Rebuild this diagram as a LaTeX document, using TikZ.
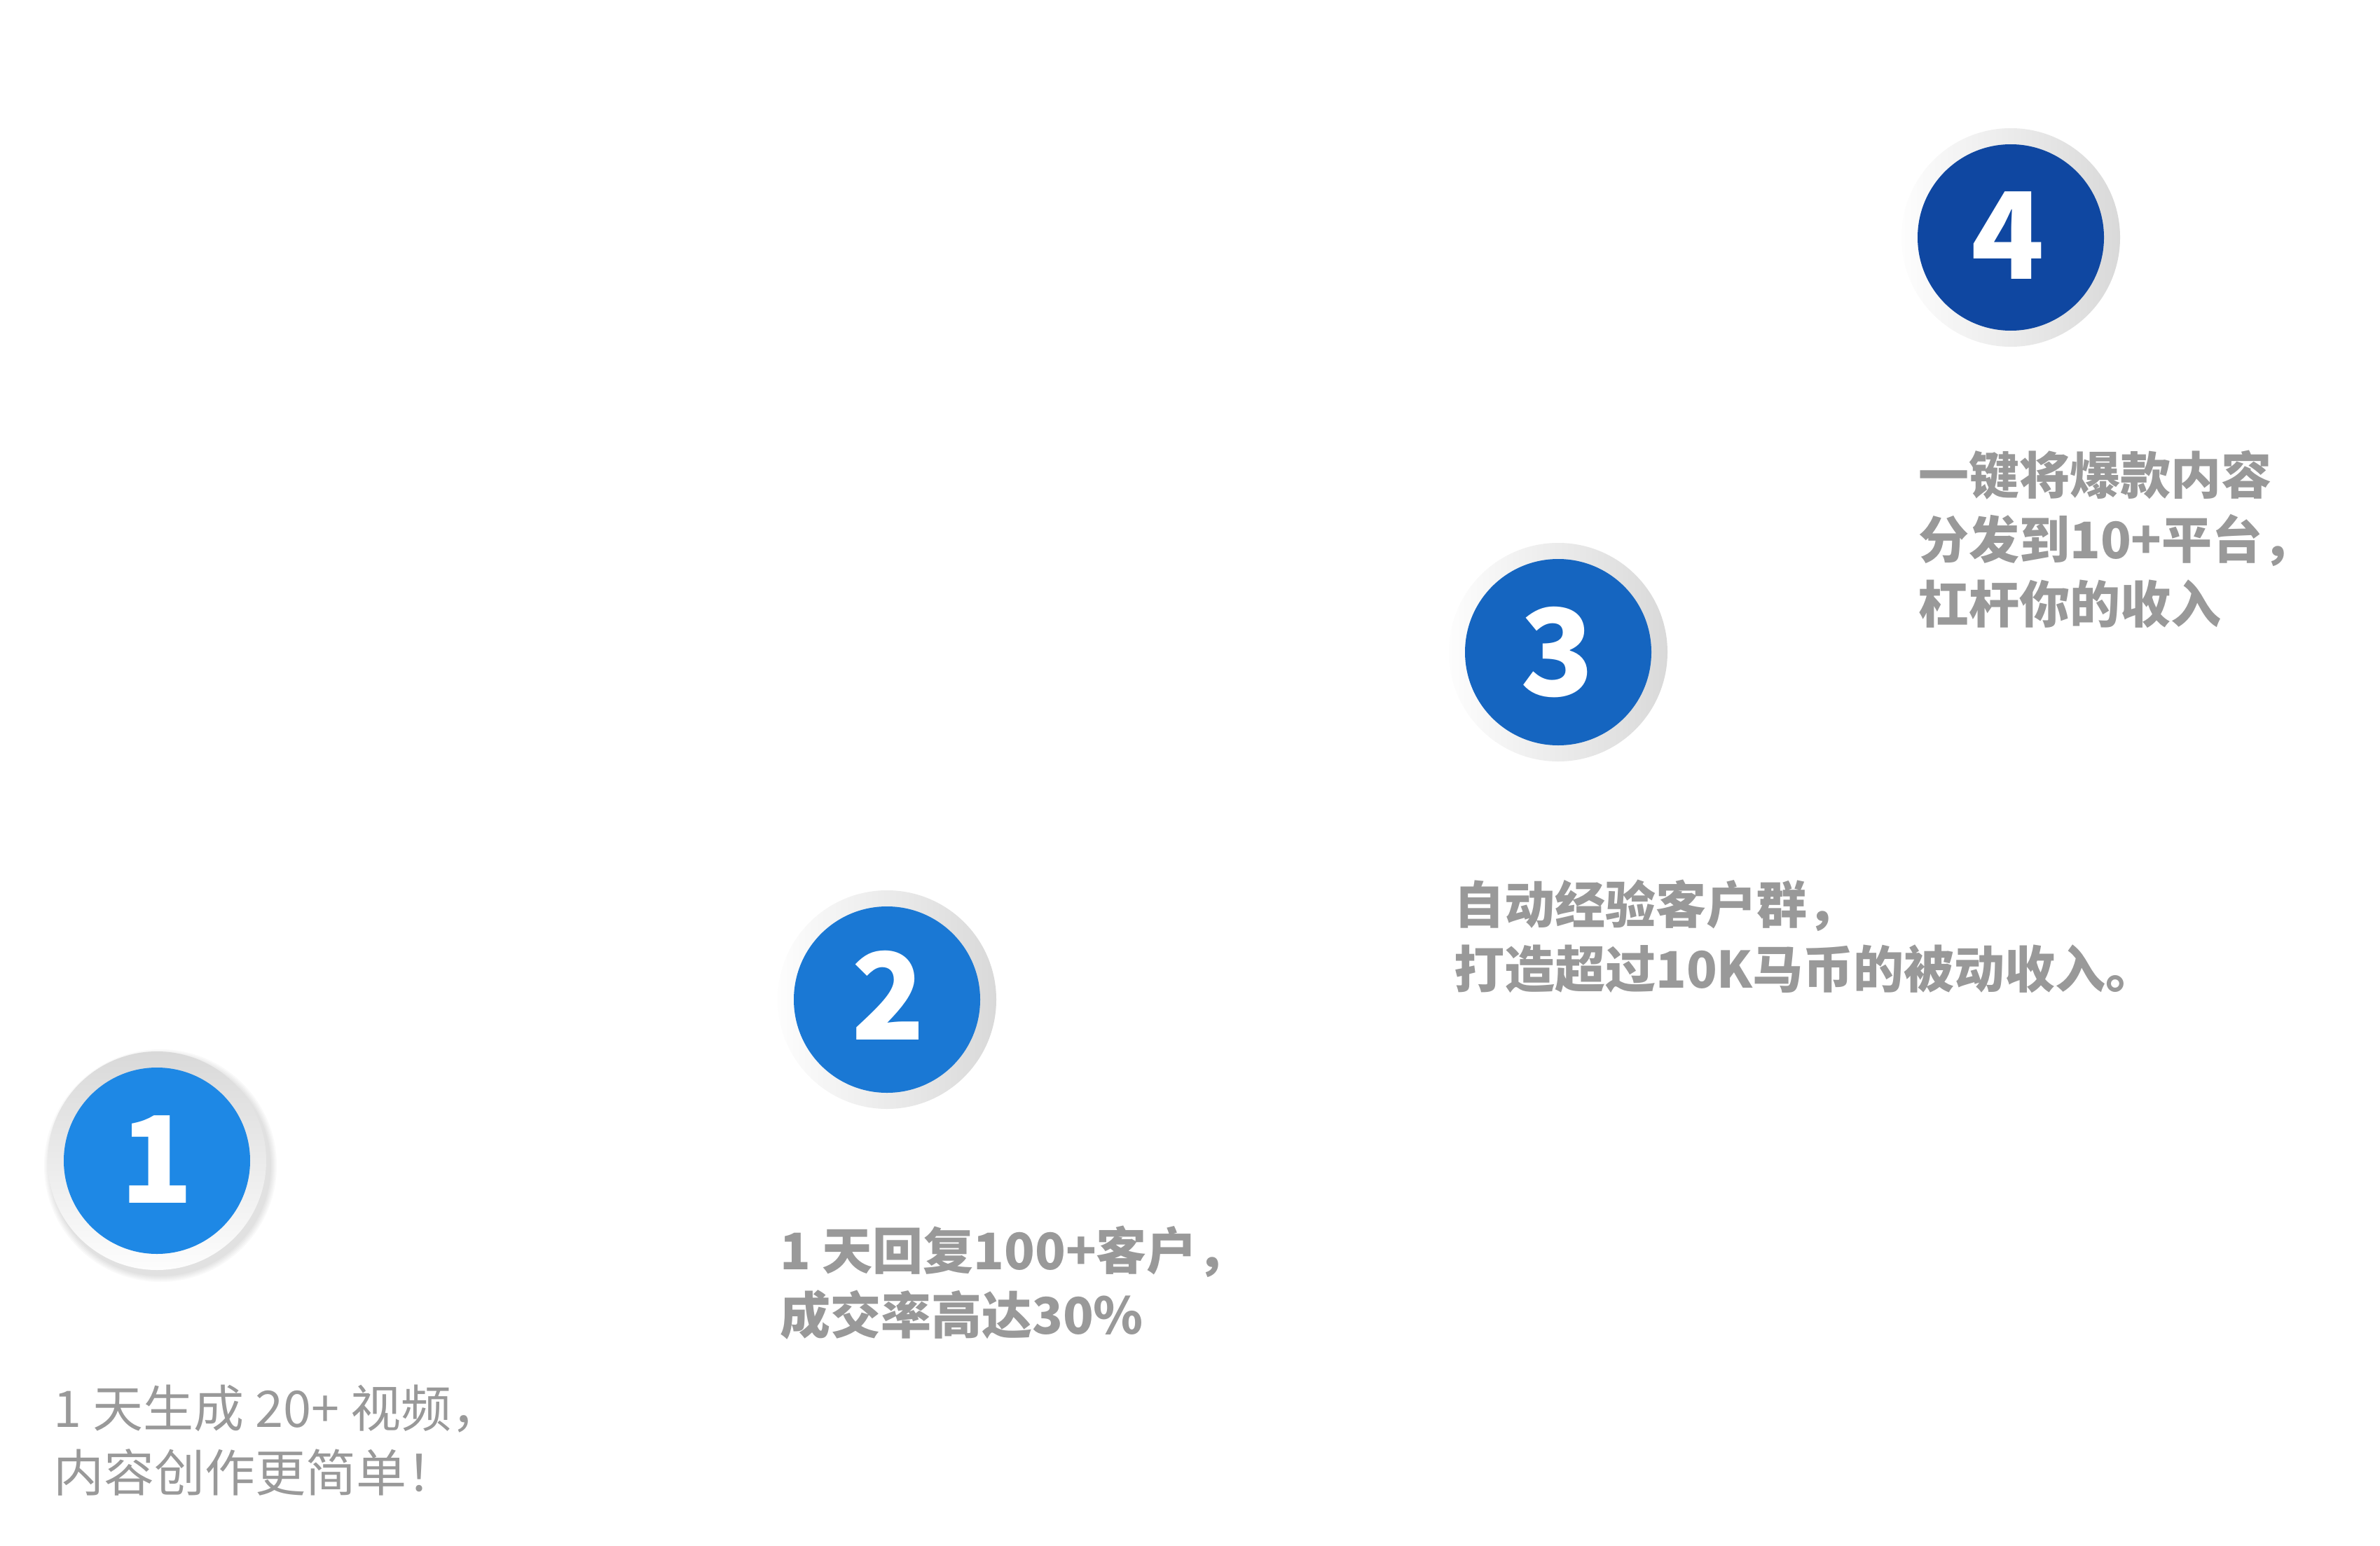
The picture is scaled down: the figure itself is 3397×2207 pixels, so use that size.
\documentclass[tikz,border=0pt]{standalone}
\usepackage{fontspec}
\setmainfont{Noto Sans CJK SC}
\definecolor{blueA}{HTML}{1E88E5}
\definecolor{blueB}{HTML}{1A78D4}
\definecolor{blueC}{HTML}{1565C0}
\definecolor{blueD}{HTML}{0F47A1}
\definecolor{txtgray}{HTML}{999999}
\definecolor{ringdark}{HTML}{D9D9D9}
\definecolor{ringlight}{HTML}{FDFDFD}
\tikzset{
  ringv/.style={circle, minimum size=312pt, inner sep=0pt, draw=none, top color=ringdark, bottom color=ringlight},
  ringh/.style={circle, minimum size=312pt, inner sep=0pt, draw=none, left color=ringlight, right color=ringdark},
  disc/.style={circle, minimum size=266pt, inner sep=0pt, draw=none},
  numtext/.style={anchor=base, inner sep=0pt, text=white, font=\fontsize{172}{172}\selectfont\bfseries},
  lbl/.style={anchor=base west, inner sep=0pt, text=txtgray, font=\fontsize{72}{90}\selectfont},
  lblb/.style={lbl, font=\fontsize{72}{90}\selectfont\bfseries},
}
\begin{document}
\begin{tikzpicture}[x=1pt,y=-1pt]
\useasboundingbox (0,0) rectangle (3397,2207);
\fill[white] (0,0) rectangle (3397,2207);

% soft shadow of circle 1
\foreach \r in {166,164,162,160,158}{
  \fill[black, opacity=0.025] (229,1664) circle[radius=\r];
}

% circle 1
\node[ringv] (r1) at (224,1657) {};
\node[disc, fill=blueA] (c1) at (224,1657) {};
\node[numtext] (n1) at (224,1717) {1};

% circle 2
\node[ringh] (r2) at (1266,1427) {};
\node[disc, fill=blueB] (c2) at (1266,1427) {};
\node[numtext] (n2) at (1268,1484) {2};

% circle 3
\node[ringh] (r3) at (2224,931) {};
\node[disc, fill=blueC] (c3) at (2224,931) {};
\node[numtext] (n3) at (2223,993) {3};

% circle 4
\node[ringh] (r4) at (2870,339) {};
\node[disc, fill=blueD] (c4) at (2870,339) {};
\node[numtext] (n4) at (2866,399) {4};

% text 1
\node[lbl] (t1a) at (76,2037) {1 天生成 20+ 视频，};
\node[lbl] (t1b) at (76,2129) {内容创作更简单！};

% text 2
\node[lblb] (t2a) at (1113,1812) {1 天回复100+客户，};
\node[lblb] (t2b) at (1113,1904) {成交率高达30\%};

% text 3
\node[lblb] (t3a) at (2075,1318) {自动经验客户群，};
\node[lblb] (t3b) at (2075,1410) {打造超过10K马币的被动收入。};

% text 4
\node[lblb] (t4a) at (2738,705) {一键将爆款内容};
\node[lblb] (t4b) at (2738,797) {分发到10+平台，};
\node[lblb] (t4c) at (2738,889) {杠杆你的收入};
\end{tikzpicture}
\end{document}
